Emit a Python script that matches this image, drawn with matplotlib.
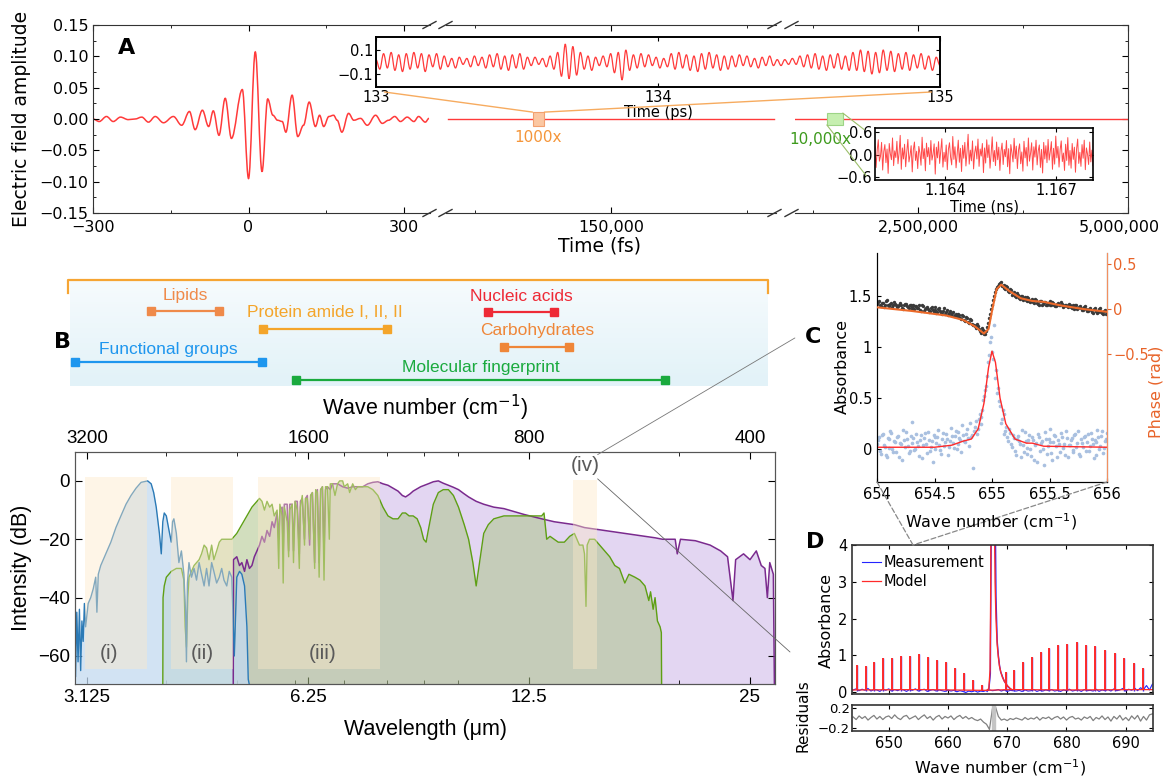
import numpy as np
import matplotlib
matplotlib.use("Agg")
import matplotlib.pyplot as plt
from matplotlib.patches import Rectangle, ConnectionPatch, PathPatch
from matplotlib.path import Path
from matplotlib.lines import Line2D
from matplotlib.colors import LinearSegmentedColormap
from matplotlib.ticker import FuncFormatter, NullFormatter

plt.rcParams['font.family'] = ['DejaVu Sans']
NARROW = ['Liberation Sans Narrow', 'Liberation Sans', 'DejaVu Sans']

# ---------------- panel A data ----------------
pulse_t = [-300, -288, -274, -261, -247, -232, -219, -206, -193, -180,
           -164, -145, -129, -114, -103, -89, -77, -68, -57, -45,
           -33, -12, 0, 13, 26, 37, 47, 56, 65, 72,
           84, 95, 106, 117, 129, 137, 145, 155, 164, 171,
           180, 193, 203, 216, 229, 245, 258, 270, 282, 293,
           306, 319, 328, 341, 348]
pulse_e = [0.0, -0.004, 0.004, -0.004, 0.003, -0.001, 0.0, 0.003, -0.005, 0.004,
           -0.006, 0.004, -0.010, 0.012, -0.017, 0.014, -0.012, 0.013, -0.026, 0.033,
           -0.031, 0.047, -0.095, 0.107, -0.084, 0.032, 0.006, -0.002, -0.004, -0.021,
           0.038, -0.028, -0.010, 0.027, -0.012, 0.006, -0.012, 0.004, 0.006, -0.002,
           -0.021, 0.009, -0.002, 0.001, -0.010, 0.006, -0.007, -0.002, 0.004, -0.004,
           0.003, -0.004, 0.004, -0.005, 0.001]
seg2_t = [114000, 186000]
seg2_e = [0.0, 0.0]
seg3_t = [1040000, 5000000]
seg3_e = [0.0, 0.0]
zoom_ps_center = 134000      # fs, the 1000x window
zoom_ns_center = 1510000     # fs, the 10,000x window (as drawn)

inset_ps_amp = [0.02, -0.06, 0.07, -0.05, 0.08, -0.07, 0.06, -0.08, 0.07,
                -0.06, 0.08, -0.05, 0.07, -0.08, 0.06, -0.04, 0.07, -0.06, 0.05,
                -0.04, 0.03, -0.05, 0.04, -0.02, 0.03, -0.04, 0.05, -0.03, 0.04, -0.05,
                0.06, -0.04, 0.07, -0.06, 0.05, -0.07, 0.06, -0.05, 0.07, -0.06, 0.04,
                -0.03, 0.04, -0.02, 0.03, -0.04, 0.05, -0.06, 0.08,
                -0.12, 0.15, -0.14, 0.13, -0.11,
                0.08, -0.06, 0.05, -0.07, 0.04, -0.03, 0.05, -0.04,
                0.07, -0.09, 0.08, -0.15, 0.10, -0.07,
                0.06, -0.05, 0.07, -0.04, 0.06, -0.03, 0.04, -0.05, 0.03, -0.04,
                0.07, -0.06, 0.08, -0.05, 0.06, -0.07, 0.05, -0.08, 0.07, -0.06, 0.08, -0.05, 0.06, -0.07, 0.05, -0.06,
                0.05, -0.04, 0.06, -0.03, 0.05, -0.04, 0.03, -0.05, 0.04, -0.03, 0.05,
                -0.03, 0.02, -0.03, 0.02, -0.02, 0.03, -0.02,
                0.05, -0.04, 0.06, -0.05, 0.07, -0.06, 0.05, -0.07, 0.06, -0.05, 0.07, -0.06, 0.05, -0.07,
                0.08, -0.07, 0.10, -0.08, 0.09, -0.10, 0.08, -0.09, 0.10, -0.07, 0.09,
                -0.08, 0.07, -0.06, 0.08, -0.07, 0.06, -0.05, 0.07, -0.06, 0.05, -0.07, 0.04, -0.03]
inset_ns_amp = [0.21, -0.35, 0.12, 0.40, -0.18, -0.05, 0.33, -0.42, 0.08, 0.27, -0.22, 0.15, -0.51, 0.30, 0.02, -0.14, 0.45, -0.30, 0.10, -0.08,
                0.36, -0.25, 0.05, 0.52, -0.40, 0.18, -0.12, 0.28, -0.33, 0.07, 0.41, -0.20, -0.02, 0.24, -0.47, 0.13, 0.34, -0.16, 0.09, -0.38,
                0.22, 0.04, -0.29, 0.47, -0.11, 0.16, -0.44, 0.31, -0.06, 0.19, -0.27, 0.38, -0.15, 0.01, 0.29, -0.53, 0.20, -0.09, 0.35, -0.24,
                0.11, 0.43, -0.34, 0.06, -0.19, 0.26, -0.41, 0.14, 0.32, -0.07, -0.28, 0.49, -0.13, 0.21, -0.36, 0.03, 0.39, -0.21, 0.17, -0.46,
                0.25, -0.10, 0.33, -0.31, 0.08, 0.55, -0.26, 0.12, -0.17, 0.37, -0.39, 0.05, 0.23, -0.12, 0.42, -0.32, 0.15, -0.04, 0.30, -0.49,
                0.18, -0.23, 0.40, -0.08, 0.26, -0.37, 0.02, 0.48, -0.19, 0.11, -0.30, 0.34, -0.14, 0.20, -0.43, 0.09, 0.31, -0.27, 0.14, -0.06,
                0.38, -0.33, 0.16, -0.52, 0.27, 0.05, -0.20, 0.44, -0.11, 0.23, -0.38, 0.12, 0.29, -0.25, 0.07, -0.45, 0.36, -0.09, 0.19, -0.31,
                0.45, -0.18, 0.03, 0.32, -0.42, 0.21, -0.07, 0.39, -0.28, 0.10, 0.26, -0.35, 0.14, -0.50, 0.33, -0.12, 0.24, -0.22, 0.41, -0.15,
                0.08, 0.35, -0.40, 0.17, -0.26, 0.50, -0.09, 0.22, -0.34, 0.13, 0.37, -0.19, 0.04, -0.43, 0.28, -0.16, 0.46, -0.29, 0.11, -0.37,
                0.30, -0.13, 0.20, -0.48, 0.15, 0.42, -0.24, 0.06, -0.32, 0.27, -0.10, 0.39, -0.41, 0.18, 0.01, -0.27, 0.34, -0.20, 0.12, -0.30]

# ---------------- panel B data ----------------
band_names = ['Lipids', 'Protein amide I, II, II', 'Nucleic acids', 'Carbohydrates',
              'Functional groups', 'Molecular fingerprint']
band_start = [2620, 1840, 910, 865, 3320, 1660]   # cm-1
band_end = [2115, 1250, 740, 705, 1850, 522]

comb1_lam = [3.013, 3.025, 3.037, 3.050, 3.062, 3.074, 3.086, 3.098, 3.110, 3.135,
             3.160, 3.185, 3.210, 3.222, 3.236, 3.261, 3.313, 3.366, 3.420, 3.474,
             3.530, 3.586, 3.643, 3.701, 3.778, 3.820, 3.850, 3.881, 3.920, 3.943,
             3.962, 3.980, 4.006, 4.040, 4.069, 4.085, 4.102, 4.134, 4.167, 4.200,
             4.233, 4.255, 4.267, 4.280, 4.301, 4.335, 4.370, 4.404, 4.440, 4.474,
             4.510, 4.545, 4.580, 4.618, 4.650, 4.691, 4.730, 4.766, 4.800, 4.842,
             4.880, 4.919, 4.958, 4.997, 5.040, 5.077, 5.120, 5.158, 5.180, 5.199]
comb1_db = [-67, -45, -62, -44, -65, -48, -55, -42, -50, -42,
            -40, -37, -33, -45, -32, -29, -25, -21, -16, -12,
            -8, -5, -2.5, -0.5, 0, -1, -4, -9, -18, -25,
            -14, -11, -12, -17, -21, -14, -13, -18, -28, -24,
            -32, -45, -62, -35, -28, -33, -30, -34, -28, -32,
            -36, -30, -36, -28, -31, -35, -33, -30, -34, -36,
            -31, -33, -60, -33, -31, -32, -36, -50, -68, -70]

comb2_lam = [3.962, 3.965, 3.980, 4.006, 4.069, 4.134, 4.200, 4.233, 4.250, 4.267,
             4.285, 4.301, 4.335, 4.370, 4.404, 4.440, 4.474, 4.510, 4.545, 4.580,
             4.618, 4.650, 4.691, 4.730, 4.766, 4.842, 4.919, 4.997, 5.077, 5.158,
             5.240, 5.323, 5.366, 5.408, 5.450, 5.494, 5.540, 5.582, 5.620, 5.671,
             5.700, 5.720, 5.761, 5.780, 5.800, 5.853, 5.880, 5.900, 5.946, 5.970,
             6.000, 6.041, 6.080, 6.100, 6.137, 6.180, 6.200, 6.235, 6.280, 6.300,
             6.335, 6.380, 6.400, 6.435, 6.470, 6.500, 6.538, 6.570, 6.600, 6.642,
             6.680, 6.700, 6.748, 6.800, 6.855, 6.900, 6.965, 7.000, 7.076, 7.120,
             7.188, 7.250, 7.303, 7.419, 7.537, 7.657, 7.779, 7.904, 8.030, 8.158,
             8.287, 8.400, 8.486, 8.580, 8.690, 8.800, 8.898, 8.980, 9.050, 9.111,
             9.257, 9.404, 9.550, 9.706, 9.860, 10.018, 10.200, 10.340, 10.480, 10.589,
             10.700, 10.843, 11.000, 11.191, 11.551, 12.304, 13.004, 13.100, 13.212, 13.350,
             13.528, 13.700, 13.963, 14.200, 14.411, 14.641, 14.800, 14.875, 14.945, 15.000,
             15.112, 15.353, 15.600, 15.847, 16.100, 16.356, 16.600, 16.881, 17.100, 17.423,
             17.700, 17.983, 18.200, 18.300, 18.450, 18.560, 18.700, 18.856, 18.930, 18.946]
comb2_db = [-70, -40, -36, -33, -31, -30, -30, -34, -50, -57,
            -40, -33, -31, -29, -28, -27, -25, -22, -23, -27,
            -22, -27, -24, -21, -20, -20, -20, -18, -15, -12,
            -9, -7, -6, -7, -10, -7, -9, -8, -12, -10,
            -30, -8, -12, -35, -9, -14, -26, -10, -8, -28,
            -7, -10, -30, -9, -5, -22, -6, -6, -20, -5,
            -4, -30, -3, -4, -33, -3, -2, -34, -2, -2,
            -20, -1, -1, -5, -1, 0, 0, -2, -1, -4,
            -1, -3, -2, -2, -2, -3, -5, -9, -12, -13,
            -13, -11, -11, -12, -12, -13, -16, -20, -21, -17,
            -8, -4, -3, -3, -5, -9, -15, -20, -28, -36,
            -28, -18, -15, -13, -12, -12, -12, -11, -20, -19,
            -20, -21, -21, -19, -18, -22, -22, -25, -43, -22,
            -20, -20, -22, -24, -26, -29, -30, -35, -32, -33,
            -34, -36, -41, -38, -44, -40, -48, -50, -52, -70]

comb3_lam = [4.942, 4.945, 4.997, 5.040, 5.077, 5.120, 5.158, 5.199, 5.240, 5.280,
             5.323, 5.366, 5.408, 5.450, 5.494, 5.540, 5.582, 5.620, 5.671, 5.700,
             5.720, 5.761, 5.780, 5.800, 5.853, 5.880, 5.900, 5.946, 5.970, 6.000,
             6.041, 6.080, 6.100, 6.137, 6.180, 6.200, 6.235, 6.280, 6.300, 6.335,
             6.380, 6.400, 6.435, 6.470, 6.500, 6.538, 6.570, 6.600, 6.642, 6.700,
             6.748, 6.855, 6.965, 7.076, 7.188, 7.303, 7.419, 7.537, 7.657, 7.779,
             7.904, 8.030, 8.158, 8.287, 8.400, 8.486, 8.600, 8.690, 8.898, 9.111,
             9.257, 9.404, 9.550, 9.706, 9.860, 10.018, 10.180, 10.340, 10.589, 10.843,
             11.191, 11.551, 12.304, 13.004, 13.528, 13.963, 14.411, 14.875, 15.353, 15.847,
             16.356, 16.881, 17.423, 17.983, 18.560, 19.000, 19.770, 19.900, 20.100, 21.060,
             22.060, 22.800, 23.300, 23.700, 23.900, 24.500, 25.000, 25.500, 25.900, 26.200,
             26.400, 26.600, 26.900, 26.990]
comb3_db = [-70, -27, -26, -29, -28, -31, -27, -30, -29, -26,
            -24, -22, -19, -21, -17, -19, -14, -16, -11, -20,
            -10, -9, -25, -8, -8, -24, -8, -8, -24, -7,
            -7, -25, -7, -6, -20, -6, -5, -22, -5, -4,
            -28, -4, -3, -28, -3, -2, -25, -3, -2, -3,
            -1, -1, -2, -2.5, -2, -2, -2, -1, -0.5, -0.3,
            -1, -1.5, -2.5, -3.5, -5, -5.5, -4.5, -3.5, -2, -1,
            -0.3, 0, -0.8, -1.5, -2.2, -3, -4.3, -5.5, -7, -8,
            -9, -9.5, -11.5, -13, -14, -14.5, -15, -16, -16.5, -17,
            -17.5, -18, -18.5, -19, -19.5, -20, -20, -25, -20, -20.5,
            -22, -24, -26, -41, -27, -25, -27, -24, -29, -30,
            -40, -28, -32, -70]

region_labels = ['(i)', '(ii)', '(iii)', '(iv)']
region_lo = [3.105, 4.066, 5.347, 14.35]    # um
region_hi = [3.772, 4.941, 7.831, 15.48]
region_top = [1.4, 1.4, 1.4, 0.3]           # dB
region_bottom = -64.5
label_lam = [3.35, 4.48, 6.55, 14.9]
label_db = [-59, -59, -59, 5.2]

lam_ticks = [3.125, 6.25, 12.5, 25]
lam_minor = [4, 5, 6, 7, 8, 9, 10, 20]
nu_ticks = [3200, 1600, 800, 400]

# ---------------- panel C data ----------------
c_nu = np.linspace(654, 656, 121)
c_phase_pts = [0.06, 0.09, 0.03, 0.07, 0.05, 0.10, 0.04, 0.06, 0.02, 0.08, 0.05,
               0.03, 0.07, 0.01, 0.05, 0.06, 0.02, 0.04, 0.00, 0.05, 0.03,
               0.01, 0.04, -0.02, 0.03, 0.00, 0.02, -0.03, 0.01, -0.01, 0.02,
               -0.04, 0.00, -0.02, -0.05, 0.01, -0.03, -0.06, -0.02, -0.04, -0.08,
               -0.05, -0.09, -0.06, -0.11, -0.08, -0.13, -0.10, -0.15, -0.12, -0.17,
               -0.19, -0.16, -0.22, -0.25, -0.21, -0.27, -0.24,
               -0.15, -0.05, 0.05, 0.15, 0.22, 0.26, 0.29, 0.25, 0.27, 0.22, 0.24, 0.19, 0.21,
               0.17, 0.14, 0.18, 0.12, 0.15, 0.10, 0.13, 0.09, 0.12, 0.08,
               0.11, 0.07, 0.10, 0.06, 0.09, 0.05, 0.08, 0.04, 0.07, 0.09,
               0.05, 0.07, 0.03, 0.06, 0.04, 0.08, 0.02, 0.05, 0.03, 0.06,
               0.02, 0.04, 0.00, 0.05, 0.01, 0.03, -0.01, 0.02, 0.00, -0.02,
               0.01, -0.03, 0.00, -0.02, -0.04, 0.00, -0.03, -0.05, -0.01, -0.03]
c_abs_pts = [0.05, 0.12, -0.05, 0.15, 0.02, -0.08, 0.10, 0.18, 0.00, 0.08, -0.03,
             0.13, 0.06, -0.10, 0.09, 0.17, 0.03, -0.02, 0.27, 0.11, 0.00,
             0.07, -0.07, 0.14, 0.04, 0.16, -0.04, 0.09, 0.02, -0.12, 0.12,
             0.06, 0.19, -0.01, 0.10, 0.03, 0.15, -0.06, 0.08, 0.13, 0.01,
             0.18, 0.05, 0.11, -0.03, 0.14, 0.07, 0.20, 0.03, 0.12, -0.18,
             0.22, 0.15, 0.30, 0.25, 0.38, 0.52, 0.62,
             0.85, 1.05, 0.95, 1.22, 0.78, 0.60, 0.42, 0.30, 0.35, 0.18, 0.12, 0.20, 0.05,
             0.14, -0.02, 0.10, 0.08, -0.08, 0.04, 0.17, -0.05, 0.09, 0.00,
             0.12, -0.10, 0.06, 0.15, -0.02, 0.08, -0.15, 0.10, 0.03, 0.20,
             -0.04, 0.07, 0.13, -0.08, 0.05, 0.16, 0.01, -0.06, 0.11, 0.04,
             0.09, -0.03, 0.14, 0.02, 0.18, -0.07, 0.06, 0.12, -0.02, 0.15,
             0.03, 0.10, -0.09, 0.07, 0.19, 0.00, 0.13, -0.04, 0.08, 0.16]
c_nu2 = np.linspace(654.008, 655.992, 120)
c_phase_pts2 = [0.08, 0.04, 0.07, 0.02, 0.09, 0.05, 0.03, 0.07, 0.04, 0.06,
                0.02, 0.05, 0.04, 0.00, 0.06, 0.03, 0.01, 0.04, 0.02, 0.00,
                0.03, 0.01, -0.01, 0.04, -0.02, 0.01, 0.00, -0.02, 0.02, -0.03,
                -0.01, -0.03, 0.01, -0.04, -0.02, -0.05, -0.01, -0.04, -0.07, -0.03,
                -0.06, -0.08, -0.05, -0.10, -0.07, -0.12, -0.09, -0.14, -0.11, -0.16,
                -0.18, -0.21, -0.19, -0.24, -0.26, -0.23, -0.28,
                -0.20, -0.10, 0.00, 0.10, 0.19, 0.24, 0.28, 0.30, 0.26, 0.23, 0.25, 0.20, 0.22,
                0.16, 0.19, 0.13, 0.16, 0.11, 0.14, 0.12, 0.10, 0.13, 0.09,
                0.10, 0.08, 0.11, 0.07, 0.05, 0.09, 0.06, 0.08, 0.05, 0.07,
                0.04, 0.08, 0.05, 0.03, 0.07, 0.04, 0.06, 0.03, 0.05, 0.02,
                0.05, 0.01, 0.03, 0.04, 0.00, 0.02, 0.01, -0.01, 0.03, -0.02,
                0.00, -0.01, -0.04, 0.01, -0.02, -0.03, 0.01, -0.04, -0.02, -0.05]
c_abs_pts2 = [0.09, -0.02, 0.14, 0.04, -0.06, 0.11, 0.01, 0.16, -0.03, 0.07,
              0.12, -0.08, 0.05, 0.19, 0.02, 0.10, -0.04, 0.13, 0.06, -0.01,
              0.15, 0.03, 0.09, -0.09, 0.11, 0.05, 0.17, -0.02, 0.08, 0.14,
              0.00, 0.12, 0.04, -0.05, 0.16, 0.07, 0.10, 0.02, 0.21, 0.06,
              0.13, 0.00, 0.17, 0.09, 0.24, 0.08, 0.15, 0.11, 0.26, 0.14,
              0.18, 0.28, 0.20, 0.35, 0.32, 0.48, 0.58,
              0.72, 0.92, 1.10, 0.88, 0.70, 0.55, 0.47, 0.26, 0.38, 0.15, 0.22, 0.08, 0.16,
              0.02, 0.11, -0.06, 0.13, 0.05, 0.19, -0.03, 0.08, 0.01, 0.14,
              -0.07, 0.09, 0.04, -0.12, 0.12, 0.06, 0.00, 0.17, -0.05, 0.10,
              0.07, -0.10, 0.14, 0.03, 0.09, -0.03, 0.12, 0.05, 0.18, -0.08,
              0.04, 0.11, -0.01, 0.15, 0.06, -0.05, 0.10, 0.02, 0.13, 0.07,
              -0.02, 0.16, 0.05, 0.09, -0.06, 0.12, 0.03, 0.18, 0.01, 0.10]
c_phase_model_nu = [654.0, 654.3, 654.6, 654.75, 654.85, 654.93, 654.97, 655.0, 655.04,
                    655.08, 655.15, 655.25, 655.35, 655.45, 655.6, 655.8, 656.0]
c_phase_model = [0.02, -0.02, -0.07, -0.12, -0.19, -0.27, -0.22, -0.02, 0.22,
                 0.27, 0.20, 0.12, 0.09, 0.08, 0.04, 0.00, -0.03]
c_abs_model_nu = [654.0, 654.5, 654.65, 654.75, 654.82, 654.88, 654.93, 654.97, 655.0,
                  655.03, 655.07, 655.12, 655.2, 655.3, 655.35, 655.45, 656.0]
c_abs_model = [0.02, 0.02, 0.04, 0.08, 0.10, 0.20, 0.45, 0.80, 0.96,
               0.85, 0.50, 0.25, 0.10, 0.06, 0.06, 0.03, 0.02]

# ---------------- panel D data ----------------
d_line_nu = [644.59, 646.16, 647.57, 649.08, 650.55, 652.06, 653.52, 655.04, 656.56, 658.08,
             659.60, 661.11, 662.63, 664.15, 665.67, 669.76, 671.06, 672.58, 674.10, 675.62,
             677.13, 678.65, 680.17, 681.80, 683.32, 684.89, 686.46, 688.15, 689.72, 691.41, 692.93]
d_line_h = [0.75, 0.70, 0.81, 0.93, 0.93, 0.97, 0.99, 1.04, 0.95, 0.88,
            0.81, 0.65, 0.52, 0.32, 0.20, 0.55, 0.61, 0.81, 0.95, 1.08,
            1.20, 1.29, 1.31, 1.35, 1.29, 1.25, 1.15, 1.06, 0.93, 0.79, 0.65]
d_q_nu = [666.6, 666.9, 667.1, 667.2, 667.25, 667.85, 667.95, 668.1, 668.3, 668.5,
          668.7, 668.9, 669.2, 669.5, 670.0, 670.5, 670.8]
d_q_model = [0.05, 0.10, 0.60, 2.50, 4.50, 4.50, 3.00, 2.00, 1.30, 0.95,
             0.70, 0.55, 0.40, 0.30, 0.18, 0.10, 0.07]
d_q_meas_nu = [666.6, 666.9, 667.15, 667.3, 668.0, 668.1, 668.3, 668.5, 668.7, 668.9,
               669.2, 669.5, 670.0, 670.5, 670.8]
d_q_meas = [0.02, 0.08, 0.50, 4.50, 4.50, 2.60, 1.40, 1.00, 0.72, 0.55,
            0.42, 0.30, 0.17, 0.09, 0.05]
d_model_base_nu = [643.8, 655.0, 666.0, 670.8, 680.0, 694.6]
d_model_base = [0.06, 0.07, 0.05, 0.07, 0.06, 0.07]
d_grid = np.linspace(644.0, 694.5, 102)
d_meas_base = [0.06, 0.09, 0.04, 0.08, 0.05, 0.10, 0.03, 0.07, 0.06, 0.02,
               0.08, 0.05, 0.09, 0.03, 0.07, 0.04, 0.08, 0.06, 0.02, 0.07,
               0.05, 0.09, 0.03, 0.06, 0.08, 0.02, 0.05, 0.07, 0.03, 0.06,
               0.04, 0.02, 0.06, 0.03, 0.05, 0.01, 0.04, 0.02, -0.01, 0.03,
               0.01, 0.04, 0.00, 0.03, 0.02, 0.05,
               0.06, 0.04, 0.05, 0.07, 0.03, 0.06, 0.02, 0.05, 0.04, 0.03,
               0.05, 0.02, 0.06, 0.03, 0.04, 0.07, 0.02, 0.05, 0.03, 0.06,
               0.04, 0.07, 0.03, 0.05, 0.02, 0.06, 0.04, 0.08, 0.03, 0.05,
               0.06, 0.02, 0.07, 0.04, 0.05, 0.03, 0.08, 0.02, 0.06, 0.04,
               0.07, 0.03, 0.09, 0.04, 0.06, 0.10, 0.03, 0.08, 0.05, 0.11,
               0.04, 0.12, 0.07, 0.18, 0.06, 0.22]
d_resid = [0.02, -0.03, 0.04, -0.01, 0.03, -0.04, 0.01, 0.05, -0.02, 0.03,
           -0.03, 0.02, 0.04, -0.01, 0.06, 0.00, -0.03, 0.03, 0.05, -0.02,
           0.01, 0.04, -0.03, 0.02, 0.06, -0.01, 0.03, -0.04, 0.02, 0.05,
           -0.02, 0.03, 0.00, 0.04, -0.03, 0.02, 0.05, -0.01, 0.03, -0.02,
           0.01, -0.03, -0.05, -0.02, -0.08, -0.12,
           -0.22, 0.18, 0.22, 0.03, -0.04, -0.02, -0.05, -0.01, -0.03, 0.00,
           -0.02, -0.04, 0.01, -0.03, 0.00, -0.02, 0.02, -0.04, 0.01, -0.01,
           0.02, -0.03, 0.01, 0.03, -0.02, 0.02, -0.04, 0.01, 0.03, -0.02,
           0.00, -0.04, 0.02, -0.01, 0.03, -0.05, 0.01, -0.02, 0.04, -0.03,
           0.02, -0.06, 0.03, -0.02, 0.05, -0.04, 0.01, -0.05, 0.04, -0.02,
           0.05, -0.06, 0.03, -0.04, 0.06, 0.08]
d_resid_spike_nu = [667.4, 667.6, 667.8, 668.0]

# ---------------- figure ----------------
W, H = 1165, 780
fig = plt.figure(figsize=(W / 100, H / 100), dpi=100)


def add_ax(x0, y0, x1, y1):
    return fig.add_axes([x0 / W, 1 - y1 / H, (x1 - x0) / W, (y1 - y0) / H])


def ftext(x, y, s, **kw):
    ha = kw.pop('ha', 'center')
    va = kw.pop('va', 'center')
    return fig.text(x / W, 1 - y / H, s, ha=ha, va=va, **kw)


def mfmt(v, fmt):
    return (fmt % v).replace('-', '\u2212')


def wave(ax, xs, ys, **kw):
    # smooth stroke through the read extrema (flat tangent at every extremum)
    verts = [(xs[0], ys[0])]
    codes = [Path.MOVETO]
    for i in range(len(xs) - 1):
        dx = xs[i + 1] - xs[i]
        verts += [(xs[i] + 0.36 * dx, ys[i]), (xs[i + 1] - 0.36 * dx, ys[i + 1]), (xs[i + 1], ys[i + 1])]
        codes += [Path.CURVE4] * 3
    ax.add_patch(PathPatch(Path(verts, codes), fill=False, **kw))


comma = FuncFormatter(lambda v, p: f'{v:,.0f}')
RED = '#ff3a3a'

# ---- A ----
a_yticks = [-0.15, -0.10, -0.05, 0.0, 0.05, 0.10, 0.15]
a_yminor = [-0.125, -0.075, -0.025, 0.025, 0.075, 0.125]
axA1 = add_ax(93, 25, 430, 213)
axA2 = add_ax(446, 25, 776, 213)
axA3 = add_ax(795, 25, 1128, 213)
for a in (axA1, axA2, axA3):
    a.set_ylim(-0.15, 0.15)
    for s in a.spines.values():
        s.set_color('#333333')
    a.tick_params(which='both', direction='in', top=True, labelsize=11.5)
    a.tick_params(which='major', length=4)
    a.tick_params(which='minor', length=2.5)
    a.tick_params(axis='x', pad=5)
wave(axA1, pulse_t, pulse_e, ec=RED, lw=1.1)
axA1.set_xlim(-300, 350)
axA1.set_xticks([-300, 0, 300], ['\u2212300', '0', '300'])
axA1.set_xticks([-150, 150], minor=True)
axA1.set_yticks(a_yticks, [mfmt(v, '%.2f') for v in a_yticks])
axA1.set_yticks(a_yminor, minor=True)
axA1.spines['right'].set_visible(False)

axA2.plot(seg2_t, seg2_e, color=RED, lw=1.0)
axA2.set_xlim(113600, 186400)
axA2.set_xticks([150000])
axA2.set_xticks([120000, 180000], minor=True)
axA2.xaxis.set_major_formatter(comma)
axA2.set_yticks([])
axA2.set_yticks([], minor=True)
axA2.spines['left'].set_visible(False)
axA2.spines['right'].set_visible(False)

axA3.plot(seg3_t, seg3_e, color=RED, lw=1.0)
axA3.set_xlim(1036000, 5000000)
axA3.set_xticks([2500000, 5000000], ['2,500,000', ''])
axA3.set_xticks([1250000, 3750000], minor=True)
axA3.yaxis.tick_right()
axA3.set_yticks(a_yticks)
axA3.set_yticks(a_yminor, minor=True)
axA3.tick_params(which='both', labelright=False, direction='in')
axA3.spines['left'].set_visible(False)
ftext(1119, 228, '5,000,000', fontsize=11.5)

for xb in (423, 439, 768, 785):
    for yb in (25, 213):
        fig.add_artist(Line2D([xb / W, (xb + 13) / W], [1 - (yb + 3.5) / H, 1 - (yb - 3.5) / H],
                              color='#333333', lw=1))

ftext(22, 119, 'Electric field amplitude', fontsize=13.5, rotation=90)
ftext(600, 246, 'Time (fs)', fontsize=13.5)
ftext(118, 48, 'A', fontsize=16, weight='bold', ha='left')

# zoom windows
axA2.add_patch(Rectangle((zoom_ps_center - 1300, -0.011), 2600, 0.022, fc='#fbc7a2', ec='#f2a070',
                         lw=0.8, zorder=4, clip_on=False))
axA2.text(zoom_ps_center, -0.029, '1000x', color='#f5963a', ha='center', va='center', fontsize=11)
axA3.add_patch(Rectangle((zoom_ns_center - 95000, -0.0095), 190000, 0.019, fc='#c6efb0', ec='#9dd486',
                         lw=0.8, zorder=4, clip_on=False))
axA3.text(zoom_ns_center + 200000, -0.033, '10,000x', color='#3d9a1c', ha='right', va='center', fontsize=11)

axI1 = add_ax(376, 37, 940, 87)
wave(axI1, np.linspace(133, 135, len(inset_ps_amp)), inset_ps_amp, ec=RED, lw=0.9)
axI1.set_xlim(133, 135)
axI1.set_ylim(-0.21, 0.21)
axI1.set_xticks([133, 134, 135])
axI1.set_yticks([-0.1, 0.1], ['\u22120.1', '0.1'])
axI1.tick_params(direction='in', top=True, right=True, labelsize=10.5, length=3, pad=2)
axI1.set_xlabel('Time (ps)', fontsize=10.5, labelpad=0)
for s in axI1.spines.values():
    s.set_linewidth(1.4)

axI2 = add_ax(875, 128, 1093, 180)
axI2.plot(np.linspace(1.1621, 1.1680, len(inset_ns_amp)), inset_ns_amp, color='#ff4a4a', lw=0.7)
axI2.set_xlim(1.1621, 1.1680)
axI2.set_ylim(-0.69, 0.72)
axI2.set_xticks([1.164, 1.167], ['1.164', '1.167'])
axI2.set_yticks([-0.6, 0.0, 0.6], ['\u22120.6', '0.0', '0.6'])
axI2.tick_params(direction='in', top=True, right=True, labelsize=10.5, length=3, pad=2)
axI2.set_xlabel('Time (ns)', fontsize=10.5, labelpad=1)
for s in axI2.spines.values():
    s.set_linewidth(1.2)

for xyA, xyB in (((zoom_ps_center - 1300, 0.011), (0.015, -0.1)),
                 ((zoom_ps_center + 1300, 0.011), (0.985, -0.1))):
    fig.add_artist(ConnectionPatch(xyA, xyB, coordsA=axA2.transData, coordsB=axI1.transAxes,
                                   color='#f6a24e', lw=1.0, alpha=0.9))
for xyA, xyB in (((zoom_ns_center + 95000, 0.0095), (-0.05, 0.97)),
                 ((zoom_ns_center - 95000, -0.0095), (-0.04, 0.08))):
    fig.add_artist(ConnectionPatch(xyA, xyB, coordsA=axA3.transData, coordsB=axI2.transAxes,
                                   color='#9cbf6a', lw=0.8))

# ---- B (top schematic) ----
bg = add_ax(70, 280, 768, 386)
bg.imshow(np.linspace(0, 1, 64).reshape(-1, 1), aspect='auto', extent=[0, 1, 0, 1], origin='lower',
          cmap=LinearSegmentedColormap.from_list('bg', ['#e2f2f8', '#f6fbfd']))
bg.set_xlim(0, 1)
bg.set_ylim(0, 1)
bg.axis('off')

axBt = add_ax(68, 280, 768, 386)
axBt.set_xscale('log')
axBt.set_xlim(3397, 378)
axBt.set_ylim(0, 1)
axBt.axis('off')
axBt.plot([0, 0, 1, 1], [0.877, 1, 1, 0.877], transform=axBt.transAxes, color='#f6a533', lw=1.6,
          clip_on=False)
band_colors = ['#ef8a4a', '#f4a52a', '#ee2a36', '#ef8638', '#1e96ee', '#1aaa3e']
band_line_y = [0.708, 0.538, 0.698, 0.368, 0.226, 0.057]
band_text_y = [0.858, 0.689, 0.849, 0.519, 0.349, 0.170]
for name, s0, s1, col, ly, ty in zip(band_names, band_start, band_end, band_colors, band_line_y, band_text_y):
    axBt.plot([s0, s1], [ly, ly], color=col, lw=1.6, marker='s', ms=5.5, clip_on=False)
    axBt.text(np.sqrt(s0 * s1), ty, name, color=col, ha='center', va='center', fontsize=12.5,
              fontfamily=NARROW)
ftext(62, 342, 'B', fontsize=16, weight='bold')

# ---- B (spectra) ----
axB = add_ax(75, 452, 775, 684)
axB.set_xscale('log')
axB.fill_between(comb3_lam, comb3_db, -70, color='#e3d6f2', lw=0, zorder=1)
axB.fill_between(comb2_lam, comb2_db, -70, color='#adc48a', alpha=0.55, lw=0, zorder=2)
axB.fill_between(comb1_lam, comb1_db, -70, color='#c3daf0', alpha=0.75, lw=0, zorder=3)
axB.plot(comb3_lam, comb3_db, color='#7a2a8e', lw=1.1, zorder=4)
axB.plot(comb2_lam, comb2_db, color='#5e9f14', lw=1.0, zorder=5)
axB.plot(comb1_lam, comb1_db, color='#2b7ab6', lw=1.0, zorder=6)
for lo, hi, top in zip(region_lo, region_hi, region_top):
    axB.add_patch(Rectangle((lo, region_bottom), hi - lo, top - region_bottom, fc='#fde9c8',
                            alpha=0.42, lw=0, zorder=7))
for lab, lx, ly in zip(region_labels, label_lam, label_db):
    axB.text(lx, ly, lab, color='#5a5a5a', ha='center', va='center', fontsize=15, fontfamily=NARROW,
             zorder=8)
axB.set_xlim(3.008, 27.04)
axB.set_ylim(-69.6, 9.9)
axB.set_xticks(lam_ticks, ['3.125', '6.25', '12.5', '25'])
axB.set_xticks(lam_minor, minor=True)
axB.xaxis.set_minor_formatter(NullFormatter())
axB.set_yticks([0, -20, -40, -60], ['0', '\u221220', '\u221240', '\u221260'])
axB.tick_params(which='both', direction='in', right=True, labelsize=13.5, labelfontfamily=NARROW)
axB.tick_params(which='major', length=5)
axB.tick_params(which='minor', length=3)
axBtop = axB.twiny()
axBtop.set_xscale('log')
axBtop.set_xlim(axB.get_xlim())
axBtop.set_xticks([1e4 / n for n in nu_ticks], [str(n) for n in nu_ticks])
axBtop.set_xticks(lam_minor, minor=True)
axBtop.xaxis.set_minor_formatter(NullFormatter())
axBtop.tick_params(which='both', direction='in', labelsize=13.5, labelfontfamily=NARROW)
axBtop.tick_params(which='major', length=5)
axBtop.tick_params(which='minor', length=3)
for a in (axB, axBtop):
    for s in a.spines.values():
        s.set_color('#555555')
ftext(22, 568, 'Intensity (dB)', fontsize=15.5, rotation=90, fontfamily=NARROW)
ftext(425, 730, 'Wavelength (\u03bcm)', fontsize=15.5, fontfamily=NARROW)
ftext(425, 408, 'Wave number (cm$^{-1}$)', fontsize=15.5, fontfamily=NARROW)

# ---- C ----
axC = add_ax(877, 253, 1107, 482)
axC.scatter(c_nu, c_abs_pts, s=7, color='#a9c0e0', lw=0, zorder=2)
axC.scatter(c_nu2, c_abs_pts2, s=7, color='#a9c0e0', lw=0, zorder=2)
axC.plot(c_abs_model_nu, c_abs_model, color='#ff2a2a', lw=1.0, zorder=3)
axC.set_xlim(654, 656)
axC.set_ylim(-0.32, 1.92)
axC.set_xticks([654, 654.5, 655, 655.5, 656], ['654', '654.5', '655', '655.5', '656'])
axC.set_yticks([0, 0.5, 1, 1.5], ['0', '0.5', '1', '1.5'])
axC.tick_params(direction='in', labelsize=10.5, length=3)
axC.spines['top'].set_visible(False)
axCp = axC.twinx()
axCp.scatter(c_nu, c_phase_pts, s=6, color='#3a3a3a', lw=0, zorder=2)
axCp.scatter(c_nu2, c_phase_pts2, s=6, color='#3a3a3a', lw=0, zorder=2)
axCp.plot(c_phase_model_nu, c_phase_model, color='#ec6a2a', lw=1.5, zorder=3)
axCp.set_ylim(-1.91, 0.62)
axCp.set_yticks([0.5, 0, -0.5], ['0.5', '0', '\u22120.5'])
axCp.tick_params(direction='out', labelsize=10.5, length=3, pad=1.5, colors='#e8642a')
axCp.spines['right'].set_color('#f29060')
axCp.spines['top'].set_visible(False)
ftext(842, 367, 'Absorbance', fontsize=11.5, rotation=90)
ftext(1156, 392, 'Phase (rad)', fontsize=11.5, rotation=90, color='#e8642a')
ftext(991, 522, 'Wave number (cm$^{-1}$)', fontsize=11.5)
ftext(813, 337, 'C', fontsize=16, weight='bold')

# ---- D ----
axD = add_ax(852, 545, 1153, 694)
axDr = add_ax(852, 705, 1153, 731)
axD.plot(d_grid, d_meas_base, color='#2424ff', lw=0.8, label='Measurement')
axD.vlines(d_line_nu, 0.04, d_line_h, color='#2424ff', lw=1.0)
axD.plot(d_q_meas_nu, d_q_meas, color='#2424ff', lw=1.0)
axD.plot(d_model_base_nu, d_model_base, color='#ff2a2a', lw=0.9, label='Model')
axD.vlines(d_line_nu, 0.05, d_line_h, color='#ff2a2a', lw=1.4)
axD.plot(d_q_nu, d_q_model, color='#ff2a2a', lw=1.0)
axD.set_xlim(643.8, 694.6)
axD.set_ylim(-0.05, 4)
axD.set_xticks([650, 660, 670, 680, 690], [])
axD.set_yticks([0, 1, 2, 3, 4])
axD.tick_params(direction='in', right=True, top=True, labelsize=10.5, length=3)
axD.legend(loc='upper left', frameon=False, fontsize=10.5, handlelength=1.3, handletextpad=0.2,
           borderaxespad=0.3, labelspacing=0.25)

axDr.plot(d_grid, d_resid, color='#808080', lw=0.9)
axDr.vlines(d_resid_spike_nu, -0.25, 0.25, color='#c4c4c4', lw=1.0)
axDr.set_xlim(643.8, 694.6)
axDr.set_ylim(-0.25, 0.25)
axDr.set_xticks([650, 660, 670, 680, 690])
axDr.set_yticks([-0.2, 0.2], ['\u22120.2', '0.2'])
axDr.tick_params(direction='in', right=True, top=True, labelsize=10.5, length=3)
axDr.tick_params(axis='y', labelsize=9.5, pad=1.5)
for a in (axD, axDr):
    for s in a.spines.values():
        s.set_color('#333333')
        s.set_linewidth(1.2)
ftext(826, 620, 'Absorbance', fontsize=11.5, rotation=90)
ftext(803, 716, 'Residuals', fontsize=11, rotation=90)
ftext(1000, 768, 'Wave number (cm$^{-1}$)', fontsize=11.5)
ftext(815, 542, 'D', fontsize=16, weight='bold')

# ---- connectors between panels ----
fig.add_artist(ConnectionPatch((15.5, 9.0), (-0.357, 0.629), coordsA=axB.transData,
                               coordsB=axC.transAxes, color='#777777', lw=0.6))
fig.add_artist(ConnectionPatch((15.5, 0.7), (-0.206, 0.282), coordsA=axB.transData,
                               coordsB=axD.transAxes, color='#666666', lw=0.6))
for corner in ((0, 0), (1, 0)):
    fig.add_artist(ConnectionPatch(corner, (654.1, 4.0), coordsA=axC.transAxes, coordsB=axD.transData,
                                   color='#888888', lw=0.9, linestyle=(0, (4, 2))))

fig.savefig('out.png', dpi=100)
